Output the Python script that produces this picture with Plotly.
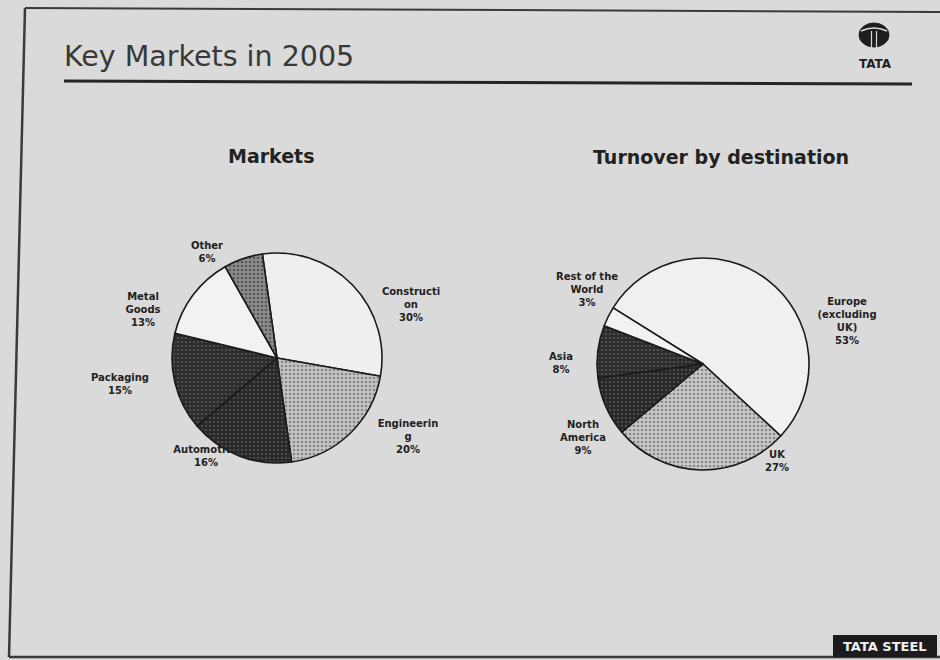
import plotly.graph_objects as go

W, H = 940, 660

# ---- data ----
market_labels = ["Construction", "Engineering", "Automotive", "Packaging", "Metal Goods", "Other"]
market_text_labels = ["Constructi<br>on", "Engineerin<br>g", "Automotive", "Packaging", "Metal<br>Goods", "Other"]
market_values = [30, 20, 16, 15, 13, 6]

dest_labels = ["Europe (excluding UK)", "UK", "North America", "Asia", "Rest of the World"]
dest_text_labels = ["Europe<br>(excluding<br>UK)", "UK", "North<br>America", "Asia", "Rest of the<br>World"]
dest_values = [53, 27, 9, 8, 3]

# ---- layout / styles ----
# label anchor positions (page pixels, as the slide's data labels sit)
market_label_x = [411, 408, 206, 120, 143, 207]
market_label_y = [305, 437, 457, 385, 310, 253]
dest_label_x = [847, 777, 583, 561, 587]
dest_label_y = [322, 462, 438, 364, 290]

market_colors = ["#efefef", "#c4c4c4", "#262626", "#2a2a2a", "#f2f2f2", "#8c8c8c"]
market_shapes = ["", ".", ".", ".", "", "."]
market_fg = ["#efefef", "#4a4a4a", "#6e6e6e", "#6e6e6e", "#f2f2f2", "#262626"]

dest_colors = ["#f0f0f0", "#c8c8c8", "#262626", "#2a2a2a", "#f2f2f2"]
dest_shapes = ["", ".", ".", ".", ""]
dest_fg = ["#f0f0f0", "#4a4a4a", "#6e6e6e", "#6e6e6e", "#f2f2f2"]

FONT = "DejaVu Sans, Verdana, sans-serif"


def dom(cx, cy, r):
    return dict(x=[(cx - r) / W, (cx + r) / W], y=[1 - (cy + r) / H, 1 - (cy - r) / H])


fig = go.Figure()

# data labels (drawn in the cartesian layer, beneath the pies, like the slide)
fig.add_trace(go.Scatter(
    x=market_label_x + dest_label_x,
    y=market_label_y + dest_label_y,
    text=[f"{t}<br>{v}%" for t, v in zip(market_text_labels, market_values)]
    + [f"{t}<br>{v}%" for t, v in zip(dest_text_labels, dest_values)],
    mode="text",
    textposition="middle center",
    textfont=dict(family=FONT, size=10, color="#222222", weight="bold"),
    hoverinfo="skip",
    showlegend=False,
))

fig.add_trace(go.Pie(
    labels=market_labels,
    values=market_values,
    textinfo="none",
    sort=False,
    direction="clockwise",
    rotation=-8,
    marker=dict(
        colors=market_colors,
        line=dict(color="#1a1a1a", width=1.6),
        pattern=dict(shape=market_shapes, fgcolor=market_fg, size=4, solidity=0.35, fillmode="overlay"),
    ),
    domain=dom(277, 358, 105),
    showlegend=False,
    hoverinfo="label+percent",
))
fig.add_trace(go.Pie(
    labels=dest_labels,
    values=dest_values,
    textinfo="none",
    sort=False,
    direction="clockwise",
    rotation=-58,
    marker=dict(
        colors=dest_colors,
        line=dict(color="#1a1a1a", width=1.6),
        pattern=dict(shape=dest_shapes, fgcolor=dest_fg, size=4, solidity=0.35, fillmode="overlay"),
    ),
    domain=dom(703, 364, 106),
    showlegend=False,
    hoverinfo="label+percent",
))

shapes = [
    # slide frame (photographed, slightly skewed)
    dict(type="line", xref="x", yref="y", x0=25, y0=8, x1=940, y1=12,
         line=dict(color="#3a3a3a", width=2)),
    dict(type="line", xref="x", yref="y", x0=25, y0=8, x1=9, y1=657,
         line=dict(color="#3a3a3a", width=2.5)),
    dict(type="line", xref="x", yref="y", x0=9, y0=657, x1=940, y1=657,
         line=dict(color="#3a3a3a", width=2.5)),
    # title rule
    dict(type="line", xref="x", yref="y", x0=64, y0=81, x1=912, y1=84,
         line=dict(color="#262626", width=3)),
    # TATA emblem
    dict(type="circle", xref="x", yref="y", x0=859, y0=23, x1=889, y1=47,
         fillcolor="#1e1e1e", line=dict(color="#1e1e1e", width=1)),
    dict(type="path", xref="x", yref="y", path="M 861 31 Q 874 25 887 31",
         line=dict(color="#dadada", width=1.6)),
    dict(type="line", xref="x", yref="y", x0=871.5, y0=31, x1=871.5, y1=47,
         line=dict(color="#dadada", width=1.2)),
    dict(type="line", xref="x", yref="y", x0=876.5, y0=31, x1=876.5, y1=47,
         line=dict(color="#dadada", width=1.2)),
    # TATA STEEL box
    dict(type="rect", xref="x", yref="y", x0=833, y0=635, x1=937, y1=657,
         fillcolor="#1c1c1c", line=dict(width=0)),
]

annotations = [
    dict(text="Key Markets in 2005", x=62, y=56, xref="x", yref="y",
         xanchor="left", yanchor="middle", showarrow=False,
         font=dict(family=FONT, size=28.5, color="#383838")),
    dict(text="<b>Markets</b>", x=271, y=156, xref="x", yref="y",
         xanchor="center", yanchor="middle", showarrow=False,
         font=dict(family=FONT, size=19, color="#222222")),
    dict(text="<b>Turnover by destination</b>", x=721, y=157, xref="x", yref="y",
         xanchor="center", yanchor="middle", showarrow=False,
         font=dict(family=FONT, size=19, color="#222222")),
    dict(text="<b>TATA</b>", x=875, y=64, xref="x", yref="y",
         xanchor="center", yanchor="middle", showarrow=False,
         font=dict(family=FONT, size=12, color="#1e1e1e")),
    dict(text="<b>TATA STEEL</b>", x=885, y=646.5, xref="x", yref="y",
         xanchor="center", yanchor="middle", showarrow=False,
         font=dict(family=FONT, size=13, color="#f0f0f0")),
]

fig.update_layout(
    width=W, height=H,
    margin=dict(l=0, r=0, t=0, b=0),
    paper_bgcolor="#dadada",
    plot_bgcolor="#dadada",
    xaxis=dict(range=[0, W], visible=False, domain=[0, 1], fixedrange=True),
    yaxis=dict(range=[H, 0], visible=False, domain=[0, 1], fixedrange=True),
    shapes=shapes,
    annotations=annotations,
    showlegend=False,
)

fig.write_html(
    "out.html",
    config={"displayModeBar": False},
    post_script="document.body.style.margin='0';document.body.style.background='#dadada';",
)
